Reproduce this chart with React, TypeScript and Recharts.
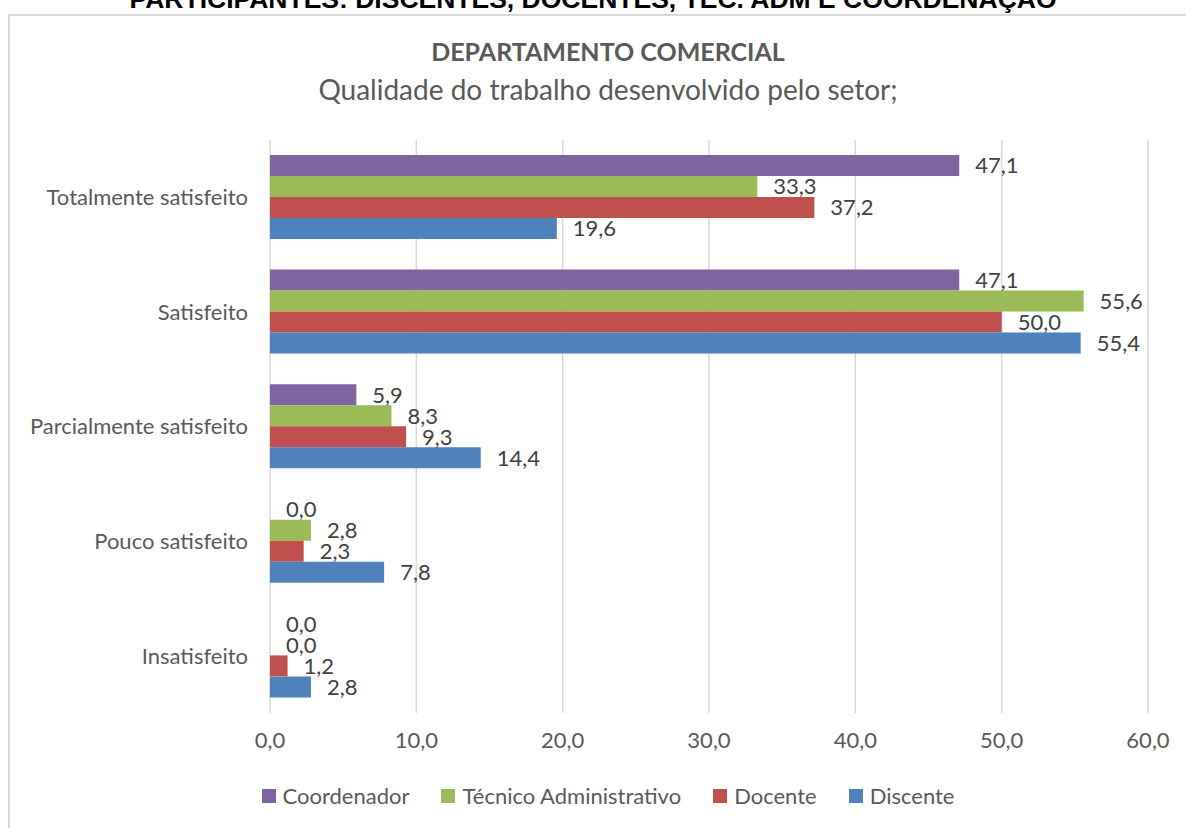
import React from "react";
import { BarChart, Bar, XAxis, YAxis, CartesianGrid, LabelList } from "recharts";

const categories = [
  "Totalmente satisfeito",
  "Satisfeito",
  "Parcialmente satisfeito",
  "Pouco satisfeito",
  "Insatisfeito",
];
const coordenador = [47.1, 47.1, 5.9, 0.0, 0.0];
const tecnico = [33.3, 55.6, 8.3, 2.8, 0.0];
const docente = [37.2, 50.0, 9.3, 2.3, 1.2];
const discente = [19.6, 55.4, 14.4, 7.8, 2.8];
const xTicks = [0, 10, 20, 30, 40, 50, 60];

const series = [
  { key: "coordenador", name: "Coordenador", color: "#8064A2" },
  { key: "tecnico", name: "Técnico Administrativo", color: "#9BBB59" },
  { key: "docente", name: "Docente", color: "#C0504D" },
  { key: "discente", name: "Discente", color: "#4F81BD" },
];

const data = categories.map((name, i) => ({
  name,
  coordenador: coordenador[i],
  tecnico: tecnico[i],
  docente: docente[i],
  discente: discente[i],
}));

const FONT = "Lato, 'Liberation Sans', sans-serif";
const fmt = (v: unknown) => Number(v).toFixed(1).replace(".", ",");

// value label to the right of the bar; zero bars start at the axis
function ValueLabel(props: any) {
  const { x, y, width, height, value } = props;
  if (value == null) return null;
  const w = Number(value) === 0 ? 0 : Number(width || 0);
  return (
    <text
      x={Number(x) + w + 16}
      y={Number(y) + Number(height) / 2}
      dy="0.36em"
      fill="#404040"
      fontSize={22}
      fontFamily={FONT}
    >
      {fmt(value)}
    </text>
  );
}

function LegendBox() {
  return (
    <div
      style={{
        position: "absolute",
        left: 0,
        top: 782,
        width: 1216,
        display: "flex",
        justifyContent: "center",
        gap: 32,
        fontFamily: FONT,
        fontSize: 22,
        color: "#595959",
      }}
    >
      {series.map((s) => (
        <span key={s.key} style={{ display: "flex", alignItems: "center" }}>
          <span
            style={{ width: 14, height: 14, background: s.color, marginRight: 7 }}
          />
          {s.name}
        </span>
      ))}
    </div>
  );
}

export default function App() {
  return (
    <div
      style={{
        position: "absolute",
        left: 0,
        top: 0,
        width: 1186,
        height: 828,
        overflow: "hidden",
        background: "#fff",
      }}
    >
      <div
        style={{
          position: "absolute",
          left: 0,
          top: -16,
          width: 1186,
          textAlign: "center",
          fontFamily: "'Liberation Sans Narrow', 'Arial Narrow', sans-serif",
          fontWeight: 700,
          fontSize: 26.5,
          color: "#000",
          whiteSpace: "nowrap",
        }}
      >
        PARTICIPANTES: DISCENTES, DOCENTES, TÉC. ADM E COORDENAÇÃO
      </div>
      <div
        style={{
          position: "absolute",
          left: 8,
          top: 14,
          width: 1220,
          height: 840,
          border: "2px solid #d9d9d9",
        }}
      />
      <div
        style={{
          position: "absolute",
          left: 0,
          top: 36,
          width: 1216,
          textAlign: "center",
          fontFamily: FONT,
          fontWeight: 700,
          fontSize: 25,
          color: "#595959",
        }}
      >
        DEPARTAMENTO COMERCIAL
      </div>
      <div
        style={{
          position: "absolute",
          left: 0,
          top: 72,
          width: 1216,
          textAlign: "center",
          fontFamily: FONT,
          fontSize: 28,
          color: "#595959",
        }}
      >
        Qualidade do trabalho desenvolvido pelo setor;
      </div>
      <div style={{ position: "absolute", left: 0, top: 0 }}>
        <BarChart
          width={1186}
          height={828}
          data={data}
          layout="vertical"
          margin={{ top: 140, right: 38, bottom: 85, left: 0 }}
          barCategoryGap={15}
          barGap={0}
        >
          <CartesianGrid horizontal={false} stroke="#d9d9d9" strokeWidth={1.5} />
          <XAxis
            type="number"
            domain={[0, 60]}
            ticks={xTicks}
            tickFormatter={fmt}
            axisLine={false}
            tickLine={false}
            tickSize={0}
            tickMargin={19}
            tick={{ fill: "#595959", fontSize: 22, fontFamily: FONT }}
          />
          <YAxis
            type="category"
            dataKey="name"
            width={270}
            axisLine={false}
            tickLine={false}
            tickSize={0}
            tickMargin={22}
            tick={{ fill: "#595959", fontSize: 22, fontFamily: FONT }}
          />
          {series.map((s) => (
            <Bar
              key={s.key}
              dataKey={s.key}
              name={s.name}
              fill={s.color}
              minPointSize={0.01}
              isAnimationActive={false}
            >
              <LabelList dataKey={s.key} content={<ValueLabel />} />
            </Bar>
          ))}
        </BarChart>
      </div>
      <LegendBox />
    </div>
  );
}
